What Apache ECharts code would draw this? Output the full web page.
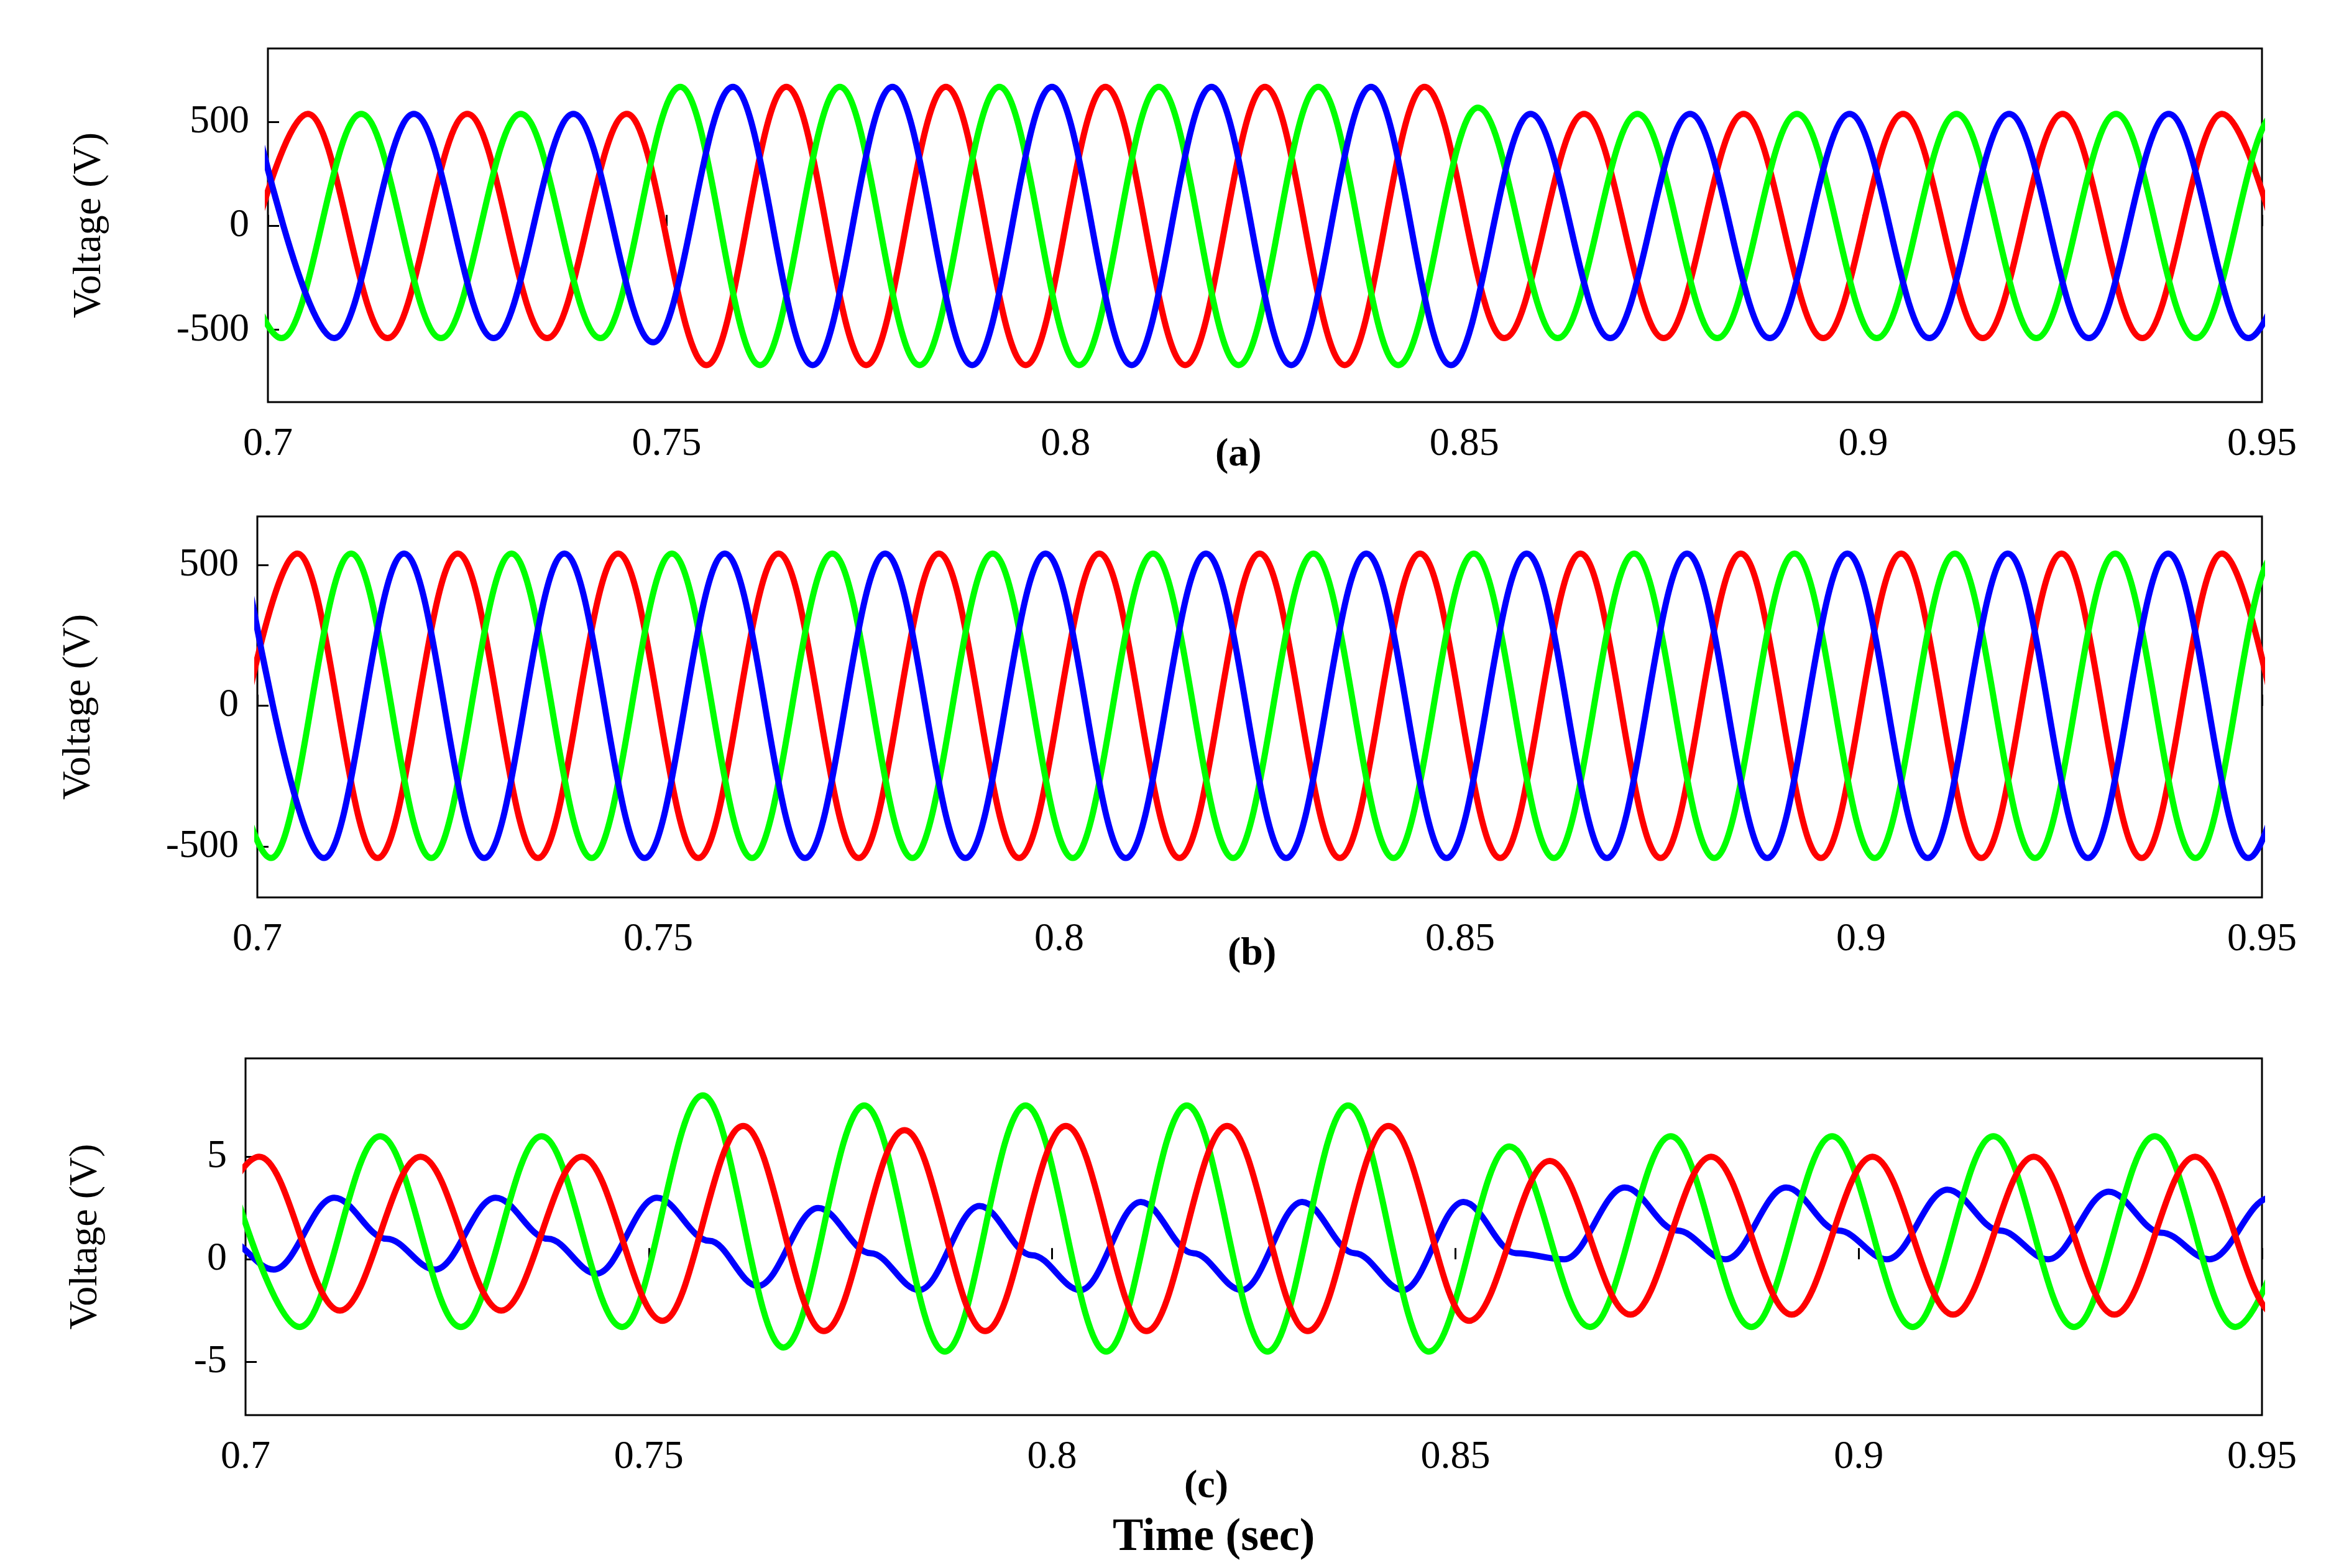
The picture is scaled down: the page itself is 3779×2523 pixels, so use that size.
<!DOCTYPE html>
<html>
<head>
<meta charset="utf-8">
<script src="https://cdn.jsdelivr.net/npm/echarts@6/dist/echarts.min.js"></script>
<style>html,body{margin:0;background:#fff}#c{width:3779px;height:2523px}</style>
</head>
<body>
<div id="c"></div>
<script>
// peak values, one per half cycle (0.01 s apart)
var redA_t0 = 0.695;
var redA = [-540,540,-540,540,-540,540,-670,670,-670,670,-670,670,-670,670,-670,670,-540,540,-540,540,-540,540,-540,540,-540,540,-540];
var greenA_t0 = 0.6917;
var greenA = [540,-540,540,-540,540,-540,670,-670,670,-670,670,-670,670,-670,670,-670,570,-540,540,-540,540,-540,540,-540,540,-540,540,-540];
var blueA_t0 = 0.6983;
var blueA = [540,-540,540,-540,540,-560,670,-670,670,-670,670,-670,670,-670,670,-670,540,-540,540,-540,540,-540,540,-540,540,-540,540];

var redB_t0 = 0.695;
var redB = [-540,540,-540,540,-540,540,-540,540,-540,540,-540,540,-540,540,-540,540,-540,540,-540,540,-540,540,-540,540,-540,540,-540];
var greenB_t0 = 0.6917;
var greenB = [540,-540,540,-540,540,-540,540,-540,540,-540,540,-540,540,-540,540,-540,540,-540,540,-540,540,-540,540,-540,540,-540,540,-540];
var blueB_t0 = 0.6983;
var blueB = [540,-540,540,-540,540,-540,540,-540,540,-540,540,-540,540,-540,540,-540,540,-540,540,-540,540,-540,540,-540,540,-540,540];

var redC_t0 = 0.6917;
var redC = [-2.5,5,-2.5,5,-2.5,5,-3,6.5,-3.5,6.3,-3.5,6.5,-3.5,6.5,-3.5,6.5,-3,4.8,-2.7,5,-2.7,5,-2.7,5,-2.7,5,-2.7,5];
var greenC_t0 = 0.6967;
var greenC = [6,-3.3,6,-3.3,6,-3.3,8,-4.3,7.5,-4.5,7.5,-4.5,7.5,-4.5,7.5,-4.5,5.5,-3.3,6,-3.3,6,-3.3,6,-3.3,6,-3.3,6];
// distorted blue trace: minimum, maximum and shoulder in each 0.02 s cycle
var blueC_cycleStart = [0.68,0.70,0.72,0.74,0.76,0.78,0.80,0.82,0.84,0.86,0.88,0.90,0.92,0.94];
var blueC_min = [-0.3,-0.5,-0.5,-0.7,-1.3,-1.5,-1.5,-1.5,-1.5,0,0,0,0,0];
var blueC_max = [3,3,3,3,2.5,2.6,2.8,2.8,2.8,3.5,3.5,3.4,3.3,3];
var blueC_shoulder = [1,1,1,0.9,0.3,0.2,0.3,0.3,0.3,1.4,1.4,1.4,1.3,1.2];

function build(t0, vals) {
	var pts = [];
	for(var i = 0; i < vals.length; i++) {
		pts.push([t0 + i * 0.01, vals[i]]);
	}
	return pts;
}
function buildBlueC() {
	var pts = [];
	for(var i = 0; i < blueC_cycleStart.length; i++) {
		var s = blueC_cycleStart[i];
		pts.push([s + 0.0035, blueC_min[i]]);
		pts.push([s + 0.011, blueC_max[i]]);
		pts.push([s + 0.0175, blueC_shoulder[i]]);
	}
	return pts;
}

var font = 'Liberation Serif';
var grids = [
	{left: 431, right: 140, top: 78, height: 569},
	{left: 414, right: 140, top: 831, height: 613},
	{left: 395, right: 140, top: 1703, height: 574}
];
var yRanges = [[-848, 855, [-500, 0, 500]], [-680, 672, [-500, 0, 500]], [-7.6, 9.8, [-5, 0, 5]]];

var xAxes = [], yAxes = [], series = [];
grids.forEach(function(g, k) {
	g.show = true; g.borderColor = '#000'; g.borderWidth = 3; g.containLabel = false;
	xAxes.push({
		type: 'value', gridIndex: k, min: 0.7, max: 0.95, interval: 0.05,
		axisLine: {show: false}, splitLine: {show: false},
		axisTick: {inside: true, length: 18, lineStyle: {color: '#000', width: 3}},
		axisLabel: {fontFamily: font, fontSize: 64, color: '#000', margin: 36,
			formatter: function(v) { return String(+v.toFixed(2)); }}
	});
	var yr = yRanges[k];
	yAxes.push({
		type: 'value', gridIndex: k, min: yr[0], max: yr[1],
		name: 'Voltage (V)', nameLocation: 'middle', nameGap: k == 2 ? 225 : 255, nameRotate: 90,
		nameTextStyle: {fontFamily: font, fontSize: 64, color: '#000'},
		axisLine: {show: false}, splitLine: {show: false},
		axisLabel: {fontFamily: font, fontSize: 64, color: '#000', margin: 30,
			customValues: yr[2], formatter: function(v) { return String(v); }},
		axisTick: {inside: true, length: 18, customValues: yr[2], lineStyle: {color: '#000', width: 3}}
	});
});
function line(k, color, data) {
	series.push({type: 'line', xAxisIndex: k, yAxisIndex: k, data: data, smooth: 0.36,
		smoothMonotone: 'x', showSymbol: false, silent: true, clip: true,
		lineStyle: {color: color, width: 10}});
}
line(0, '#ff0000', build(redA_t0, redA));
line(0, '#00ff00', build(greenA_t0, greenA));
line(0, '#0000ff', build(blueA_t0, blueA));
line(1, '#ff0000', build(redB_t0, redB));
line(1, '#00ff00', build(greenB_t0, greenB));
line(1, '#0000ff', build(blueB_t0, blueB));
line(2, '#0000ff', buildBlueC());
line(2, '#00ff00', build(greenC_t0, greenC));
line(2, '#ff0000', build(redC_t0, redC));

var chart = echarts.init(document.getElementById('c'));
chart.setOption({
	backgroundColor: '#fff',
	animation: false,
	grid: grids,
	xAxis: xAxes,
	yAxis: yAxes,
	series: series,
	graphic: [
		{type: 'text', left: 1955, top: 700, style: {text: '(a)', font: 'bold 64px "Liberation Serif"', fill: '#000'}},
		{type: 'text', left: 1975, top: 1503, style: {text: '(b)', font: 'bold 64px "Liberation Serif"', fill: '#000'}},
		{type: 'text', left: 1905, top: 2360, style: {text: '(c)', font: 'bold 64px "Liberation Serif"', fill: '#000'}},
		{type: 'text', left: 1790, top: 2438, style: {text: 'Time (sec)', font: 'bold 74px "Liberation Serif"', fill: '#000'}}
	]
});
</script>
</body>
</html>
